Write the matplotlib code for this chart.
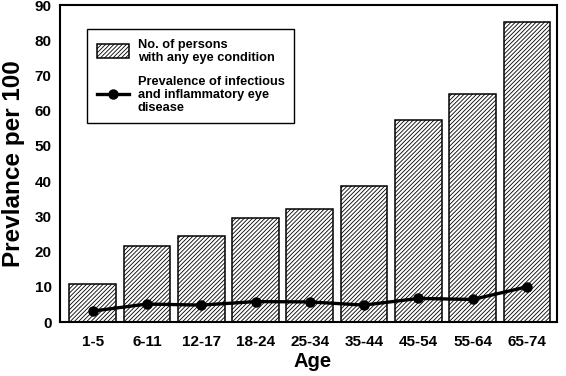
import numpy as np
import matplotlib
matplotlib.use("Agg")
import matplotlib.pyplot as plt

plt.rcParams['font.family'] = ['Liberation Sans', 'DejaVu Sans']
plt.rcParams['font.weight'] = 'bold'
plt.rcParams['hatch.linewidth'] = 0.6

# Data
age_groups = ["1-5", "6-11", "12-17", "18-24", "25-34", "35-44", "45-54", "55-64", "65-74"]
any_condition = [10.7, 21.6, 24.5, 29.5, 32.0, 38.7, 57.4, 64.7, 85.3]
infectious = [3.1, 5.1, 4.8, 5.8, 5.7, 4.8, 6.7, 6.4, 10.0]

fig = plt.figure(figsize=(5.66, 3.76), dpi=100)
ax = fig.add_axes([0.106, 0.1436, 0.878, 0.843])

x = np.arange(len(age_groups))
bars = ax.bar(x, any_condition, width=0.86, color="white", edgecolor="black",
              linewidth=1.1, hatch="////////", label="No. of persons\nwith any eye condition")
line, = ax.plot(x, infectious, color="black", linewidth=2.4, marker="o", markersize=6.5,
                label="Prevalence of infectious\nand inflammatory eye\ndisease")

ax.set_xlim(-0.6, 8.55)
ax.set_ylim(0, 90)
ax.set_yticks(range(0, 91, 10))
ax.set_xticks(x)
ax.set_xticklabels(age_groups)
ax.tick_params(length=0, labelsize=11)
ax.tick_params(axis="x", pad=9)
ax.tick_params(axis="y", pad=6)
for lab in ax.get_xticklabels() + ax.get_yticklabels():
    lab.set_fontweight("bold")
for s in ax.spines.values():
    s.set_linewidth(1.5)

ax.set_xlabel("Age", fontsize=14.5, fontweight="bold")
ax.xaxis.set_label_coords(0.509, -0.095)
ax.set_ylabel("Prevlance per 100", fontsize=17.5, fontweight="bold", labelpad=7)

leg = ax.legend(handles=[bars, line], loc="upper left", bbox_to_anchor=(0.055, 0.924),
                fancybox=False, edgecolor="black", framealpha=1,
                prop={"size": 9.2, "weight": "bold"},
                handlelength=2.5, handleheight=1.3, handletextpad=0.7,
                borderpad=0.75, labelspacing=0.95, borderaxespad=0)
for t in leg.get_texts():
    t.set_linespacing(1.1)
leg.get_frame().set_linewidth(1.0)

fig.savefig("out.png", dpi=100)
